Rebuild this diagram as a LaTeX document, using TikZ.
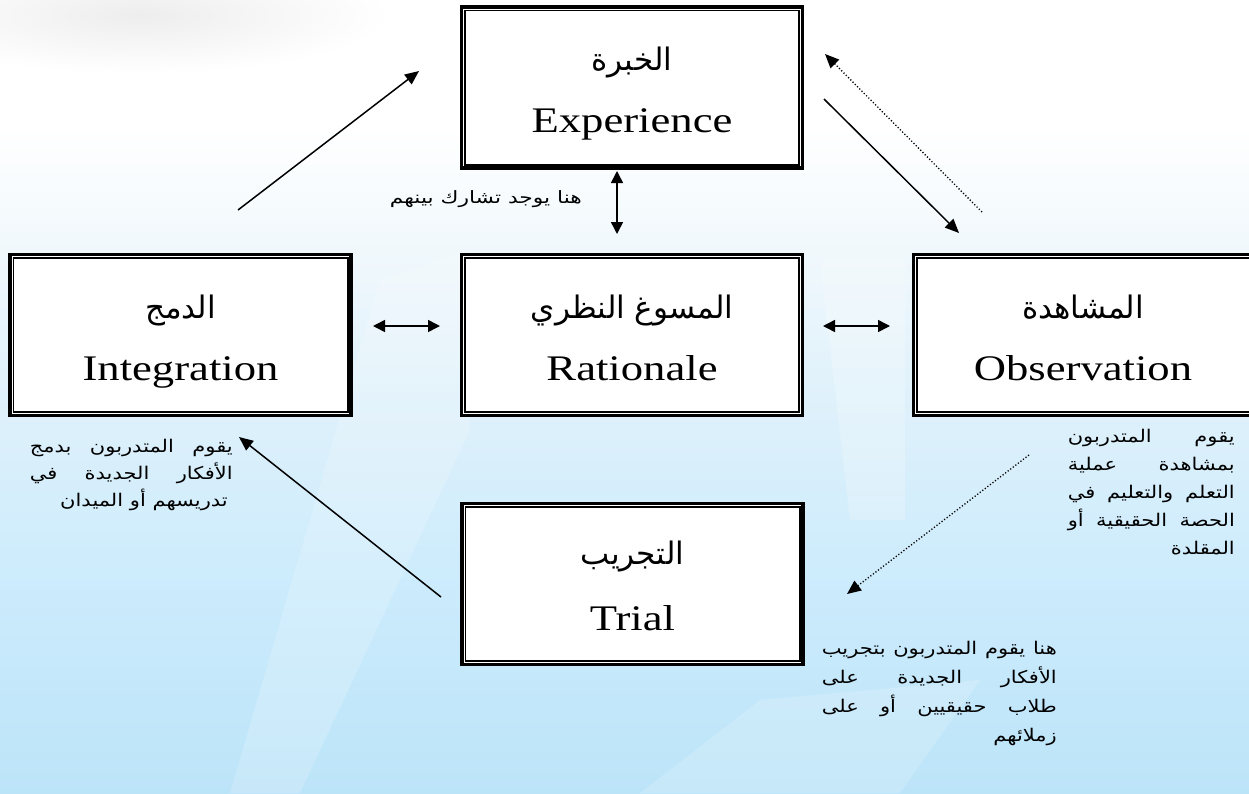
\documentclass[tikz,border=0pt]{standalone}
\usepackage{fontspec}
\setmainfont{Liberation Serif}
\newfontfamily\enwide[FakeStretch=1.24]{Liberation Serif}
\newfontfamily\arfont[Script=Arabic]{DejaVu Sans}
\newfontfamily\arwide[Script=Arabic,FakeStretch=1.2]{DejaVu Sans}
\newfontfamily\arshare[Script=Arabic,FakeStretch=1.28]{DejaVu Sans}
\TeXXeTstate=1
\usetikzlibrary{arrows.meta,calc}
\definecolor{bgA}{HTML}{BCE4F8}
\definecolor{bgB}{HTML}{CBEBFC}
\definecolor{bgC}{HTML}{DFF1FB}
\definecolor{bgD}{HTML}{F0F8FC}
\pgfdeclareverticalshading{bgshade}{100bp}{color(0bp)=(bgA); color(25bp)=(bgA); color(37.5bp)=(bgB); color(50bp)=(bgC); color(59bp)=(bgD); color(67bp)=(white); color(100bp)=(white)}
\tikzset{
  boxnode/.style={draw, line width=3.2pt, fill=white, minimum width=341pt, minimum height=161pt, inner sep=0pt},
  innerframe/.style={line width=1.8pt},
  artitle/.style={font=\arfont\fontsize{31}{36}\selectfont, inner sep=0pt},
  entitle/.style={font=\enwide\fontsize{36}{40}\selectfont, inner sep=0pt},
  note/.style={font=\arwide\fontsize{17.5}{20}\selectfont, inner sep=0pt},
  solidarrow/.style={line width=1.5pt, -{Triangle[length=14pt,width=12pt]}},
  dotarrow/.style={line width=1.3pt, dash pattern=on 1.2pt off 2pt, -{Triangle[length=14pt,width=12pt]}},
  twoway/.style={line width=1.5pt, {Triangle[length=12pt,width=12pt]}-{Triangle[length=12pt,width=12pt]}}
}
\begin{document}
\begin{tikzpicture}[x=1pt,y=-1pt]
\useasboundingbox (0,0) rectangle (1249,793);
\shade[shading=bgshade] (0,0) rectangle (1249,793);
% soft background marks
\shade[inner color=black!7, outer color=white] (140,15) ellipse [x radius=250, y radius=58];
\fill[white, opacity=0.18] (380,280) -- (470,250) -- (470,430) -- (300,793) -- (230,793) -- cycle;
\fill[white, opacity=0.22] (820,260) -- (905,260) -- (905,520) -- (850,520) -- cycle;
\fill[white, opacity=0.16] (640,793) -- (760,700) -- (980,680) -- (900,793) -- cycle;

% boxes
\node[boxnode] (exp) at (632,87.5) {};
\node[boxnode] (rat) at (632,335) {};
\node[boxnode] (int) at (180.5,335) {};
\node[boxnode] (obs) at (1084,335) {};
\node[boxnode] (tri) at (632.5,584) {};
\foreach \n in {exp,rat,int,obs,tri}{
  \draw[innerframe] ([xshift=5pt,yshift=-5pt]\n.north west) rectangle ([xshift=-5pt,yshift=5pt]\n.south east);
}

% titles
\node[artitle, anchor=base] (expa) at ($(exp.center)+(0,-17)$) {\beginR الخبرة\endR};
\node[entitle, anchor=base] (expe) at ($(exp.center)+(0,45)$) {Experience};
\node[artitle, anchor=base] (rata) at ($(rat.center)+(0,-17)$) {\beginR المسوغ النظري\endR};
\node[entitle, anchor=base] (rate) at ($(rat.center)+(0,45)$) {Rationale};
\node[artitle, anchor=base] (inta) at ($(int.center)+(0,-17)$) {\beginR الدمج\endR};
\node[entitle, anchor=base] (inte) at ($(int.center)+(0,45)$) {Integration};
\node[artitle, anchor=base] (obsa) at ($(obs.center)+(-1,-17)$) {\beginR المشاهدة\endR};
\node[entitle, anchor=base] (obse) at ($(obs.center)+(-1,45)$) {Observation};
\node[artitle, anchor=base] (tria) at ($(tri.center)+(0,-20)$) {\beginR التجريب\endR};
\node[entitle, anchor=base] (trie) at ($(tri.center)+(0,46)$) {Trial};

% share label
\node[font=\arshare\fontsize{17}{20}\selectfont, inner sep=0pt, anchor=base east] (share) at (582,203) {\beginR هنا يوجد تشارك بينهم\endR};

% notes
\node[note, anchor=base east] (n1a) at (233,452) {\makebox[203pt][s]{\beginR يقوم المتدربون بدمج\endR}};
\node[note, anchor=base east] (n1b) at (233,479) {\makebox[203pt][s]{\beginR الأفكار الجديدة في\endR}};
\node[note, anchor=base east] (n1c) at (228,506) {\beginR تدريسهم أو الميدان\endR};

\node[note, anchor=base east] (n2a) at (1235,442) {\makebox[167pt][s]{\beginR يقوم المتدربون\endR}};
\node[note, anchor=base east] (n2b) at (1235,470) {\makebox[167pt][s]{\beginR بمشاهدة عملية\endR}};
\node[note, anchor=base east] (n2c) at (1235,498) {\makebox[167pt][s]{\beginR التعلم والتعليم في\endR}};
\node[note, anchor=base east] (n2d) at (1235,526) {\makebox[167pt][s]{\beginR الحصة الحقيقية أو\endR}};
\node[note, anchor=base east] (n2e) at (1235,554) {\beginR المقلدة\endR};

\node[note, anchor=base east] (n3a) at (1057,654) {\makebox[235pt][s]{\beginR هنا يقوم المتدربون بتجريب\endR}};
\node[note, anchor=base east] (n3b) at (1057,683) {\makebox[235pt][s]{\beginR الأفكار الجديدة على\endR}};
\node[note, anchor=base east] (n3c) at (1057,712) {\makebox[235pt][s]{\beginR طلاب حقيقيين أو على\endR}};
\node[note, anchor=base east] (n3d) at (1057,741) {\beginR زملائهم\endR};

% connector end points
\coordinate (c1s) at (238,210); \coordinate (c1e) at (419,71);
\coordinate (c2s) at (824,99);  \coordinate (c2e) at (959,233);
\coordinate (c3s) at (982,212); \coordinate (c3e) at (825,54);
\coordinate (c4s) at (441,597); \coordinate (c4e) at (239,437);
\coordinate (c5s) at (1029,455); \coordinate (c5e) at (847,594);
\coordinate (v1) at (617,171); \coordinate (v2) at (617,234);
\coordinate (h1a) at (373,326); \coordinate (h1b) at (440,326);
\coordinate (h2a) at (823,326); \coordinate (h2b) at (890,326);

\draw[solidarrow] (c1s) -- (c1e);
\draw[solidarrow] (c2s) -- (c2e);
\draw[dotarrow] (c3s) -- (c3e);
\draw[solidarrow] (c4s) -- (c4e);
\draw[dotarrow] (c5s) -- (c5e);
\draw[twoway] (v1) -- (v2);
\draw[twoway] (h1a) -- (h1b);
\draw[twoway] (h2a) -- (h2b);
\end{tikzpicture}
\end{document}
